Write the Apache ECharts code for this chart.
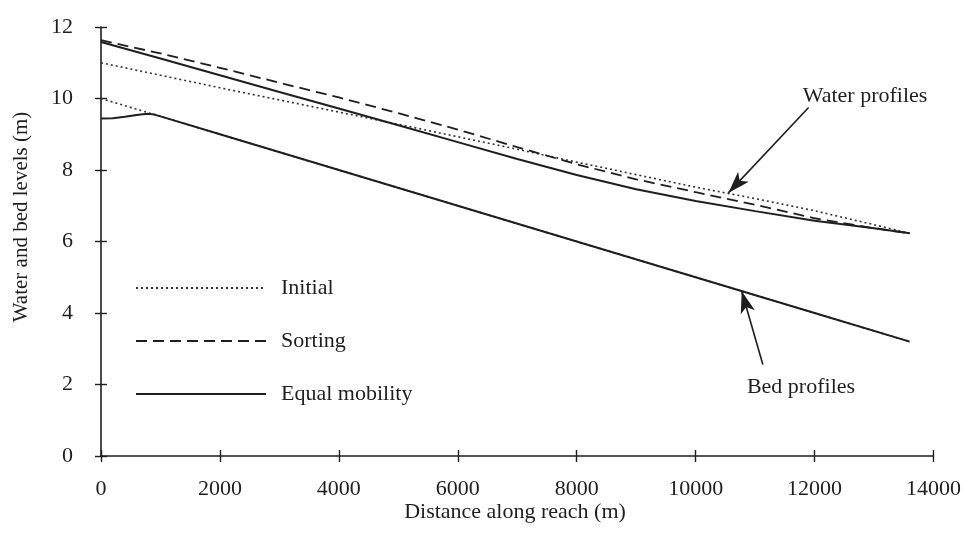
<!DOCTYPE html>
<html>
<head>
<meta charset="utf-8">
<script src="https://cdn.jsdelivr.net/npm/echarts@6/dist/echarts.min.js"></script>
<style>
html,body{margin:0;padding:0;background:#fff;}
#chart{width:964px;height:548px;}
</style>
</head>
<body>
<div id="chart"></div>
<script>
// ---- data (distance in m, level in m) ----
const waterX = [0, 1000, 2000, 3000, 4000, 5000, 6000, 7000, 8000, 9000, 10000, 11000, 12000, 13000, 13600];
const initialWater = [11.00, 10.65, 10.30, 9.96, 9.62, 9.28, 8.93, 8.58, 8.22, 7.87, 7.52, 7.20, 6.86, 6.47, 6.23];
const sortingWater = [11.63, 11.26, 10.86, 10.44, 10.03, 9.59, 9.13, 8.64, 8.16, 7.74, 7.38, 7.03, 6.65, 6.37, 6.23];
const equalWater   = [11.58, 11.12, 10.65, 10.18, 9.72, 9.25, 8.78, 8.31, 7.86, 7.46, 7.13, 6.85, 6.58, 6.37, 6.23];

const initialBedX = [0, 13600];
const initialBed  = [10.0, 3.2];
const equalBedX = [0, 200, 400, 600, 700, 800, 900, 1000, 1100, 2000, 4000, 6000, 8000, 10000, 12000, 13600];
const equalBed  = [9.44, 9.45, 9.49, 9.54, 9.56, 9.57, 9.55, 9.50, 9.45, 9.00, 8.00, 7.00, 6.00, 5.00, 4.00, 3.20];

const legendNames = ['Initial', 'Sorting', 'Equal mobility'];
const xTicks = { min: 0, max: 14000, interval: 2000 };
const yTicks = { min: 0, max: 12, interval: 2 };

// annotation arrows [from, to] in data units
const waterArrow = [[11900, 9.75], [10550, 7.36]];
const bedArrow = [[11130, 2.56], [10775, 4.61]];

function pairs(xs, ys) { return xs.map((x, i) => [x, ys[i]]); }

const FONT = '"Liberation Serif", "Times New Roman", serif';
const INK = '#1e1e1e';

const dotted = { color: '#333', width: 1.6, type: [2, 3] };
const dashed = { color: INK, width: 1.8, type: [11, 6] };
const solid  = { color: INK, width: 2 };

function lineSeries(name, data, style, z) {
  return {
    type: 'line', name: name, data: data, symbol: 'none', showSymbol: false,
    smooth: false,
    lineStyle: style, itemStyle: { color: style.color }, z: z, silent: true
  };
}

const chart = echarts.init(document.getElementById('chart'), null, { renderer: 'canvas' });

const axisLabelStyle = { fontFamily: FONT, fontSize: 22, color: INK };

const option = {
  animation: false,
  backgroundColor: '#ffffff',
  grid: { left: 101, right: 25, top: 27, bottom: 92 },
  legend: {
    data: legendNames,
    orient: 'vertical',
    left: 130,
    top: 272,
    itemWidth: 130,
    itemHeight: 22,
    itemGap: 31,
    itemStyle: { opacity: 0, borderWidth: 0 },
    textStyle: { fontFamily: FONT, fontSize: 22, color: INK, padding: [0, 0, 0, 10] },
    selectedMode: false
  },
  xAxis: [
    {
      type: 'value', min: xTicks.min, max: xTicks.max, interval: xTicks.interval,
      axisLine: { lineStyle: { color: INK, width: 1.6 } },
      axisTick: { length: 6, lineStyle: { color: INK, width: 1.4 } },
      axisLabel: Object.assign({ margin: 22, formatter: v => String(v) }, axisLabelStyle),
      splitLine: { show: false }
    },
    {
      type: 'value', min: xTicks.min, max: xTicks.max, interval: xTicks.interval,
      position: 'bottom',
      axisLine: { show: false },
      axisTick: { inside: true, length: 6, lineStyle: { color: INK, width: 1.4 } },
      axisLabel: { show: false },
      splitLine: { show: false }
    }
  ],
  yAxis: [
    {
      type: 'value', min: yTicks.min, max: yTicks.max, interval: yTicks.interval,
      axisLine: { show: true, lineStyle: { color: INK, width: 1.6 } },
      axisTick: { show: true, length: 6, lineStyle: { color: INK, width: 1.4 } },
      axisLabel: Object.assign({ margin: 28 }, axisLabelStyle),
      splitLine: { show: false }
    },
    {
      type: 'value', min: yTicks.min, max: yTicks.max, interval: yTicks.interval,
      position: 'left',
      axisLine: { show: false },
      axisTick: { show: true, inside: true, length: 6, lineStyle: { color: INK, width: 1.4 } },
      axisLabel: { show: false },
      splitLine: { show: false }
    }
  ],
  series: [
    lineSeries('Initial', pairs(initialBedX, initialBed), dotted, 2),
    lineSeries('Equal mobility', pairs(equalBedX, equalBed), solid, 4),
    lineSeries('Initial', pairs(waterX, initialWater), dotted, 3),
    lineSeries('Sorting', pairs(waterX, sortingWater), dashed, 3),
    lineSeries('Equal mobility', pairs(waterX, equalWater), solid, 4),
    {
      type: 'line', name: 'annotations', data: [], silent: true,
      markLine: {
        silent: true,
        symbol: ['none', 'arrow'],
        symbolSize: [0, 16],
        label: { show: false },
        lineStyle: { color: INK, width: 1.6, type: 'solid' },
        data: [
          [{ coord: waterArrow[0], symbol: 'none' }, { coord: waterArrow[1], symbol: 'arrow', symbolSize: [11, 22] }],
          [{ coord: bedArrow[0], symbol: 'none' }, { coord: bedArrow[1], symbol: 'arrow', symbolSize: [11, 22] }]
        ]
      }
    }
  ],
  graphic: [
    {
      type: 'text', x: 21, y: 217, rotation: Math.PI / 2,
      style: { text: 'Water and bed levels (m)', font: '21px ' + FONT, fill: INK, align: 'center', verticalAlign: 'middle' }
    },
    {
      type: 'text', x: 515, y: 512,
      style: { text: 'Distance along reach (m)', font: '22px ' + FONT, fill: INK, align: 'center', verticalAlign: 'middle' }
    },
    {
      type: 'text', x: 865, y: 96,
      style: { text: 'Water profiles', font: '22px ' + FONT, fill: INK, align: 'center', verticalAlign: 'middle' }
    },
    {
      type: 'text', x: 801, y: 387,
      style: { text: 'Bed profiles', font: '22px ' + FONT, fill: INK, align: 'center', verticalAlign: 'middle' }
    }
  ]
};

chart.setOption(option);
</script>
</body>
</html>
